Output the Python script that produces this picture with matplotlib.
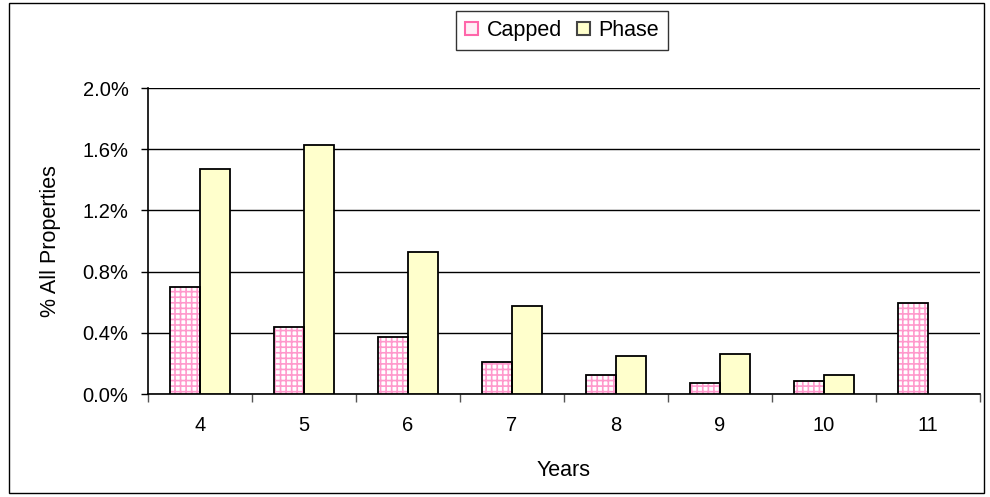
import numpy as np
import matplotlib
matplotlib.use("Agg")
import matplotlib.pyplot as plt
from matplotlib.patches import Rectangle

plt.rcParams['font.family'] = ['Liberation Sans', 'DejaVu Sans']
plt.rcParams['hatch.linewidth'] = 1.2

years = ['4', '5', '6', '7', '8', '9', '10', '11']
capped = [0.70, 0.44, 0.375, 0.21, 0.125, 0.075, 0.085, 0.595]
phase = [1.47, 1.63, 0.93, 0.575, 0.25, 0.26, 0.125, 0.0]

fig = plt.figure(figsize=(9.9, 4.97), dpi=100)
ax = fig.add_axes([0.1495, 0.2072, 0.8405, 0.6157])

x = np.arange(len(years))
w = 0.29
pink = '#ff99cc'
cream = '#ffffcc'

# capped: hatched grid, then black outline on top
ax.bar(x - w / 2, capped, w, color='white', edgecolor=pink, hatch='+++', linewidth=0, zorder=3)
ax.bar(x - w / 2, capped, w, fill=False, edgecolor='black', linewidth=1.3, zorder=4)
ph = [v if v > 0 else np.nan for v in phase]
ax.bar(x + w / 2, ph, w, color=cream, edgecolor='black', linewidth=1.3, zorder=3)

ax.set_xlim(-0.5, len(years) - 0.5)
ax.set_ylim(0, 2.0)
ax.set_yticks(np.arange(0, 2.01, 0.4))
ax.set_yticklabels(['%.1f%%' % v for v in np.arange(0, 2.01, 0.4)])
ax.set_xticks(x)
ax.set_xticklabels(years)
ax.set_xticks(np.arange(-0.5, len(years)), minor=True)
ax.tick_params(axis='x', which='major', length=0, pad=16, labelsize=14.5)
ax.tick_params(axis='x', which='minor', length=6, width=1, color='#555555')
ax.tick_params(axis='y', length=5, width=1, labelsize=14.5, pad=9)
ax.grid(axis='y', color='black', linewidth=1, zorder=0)
for s in ['top', 'right']:
    ax.spines[s].set_visible(False)
ax.spines['left'].set_linewidth(1.2)
ax.spines['bottom'].set_linewidth(1.2)

ax.set_xlabel('Years', fontsize=15.5)
ax.set_ylabel('% All Properties', fontsize=15.5)
ax.xaxis.set_label_coords(0.5, -0.215)
ax.yaxis.set_label_coords(-0.104, 0.5)

h1 = Rectangle((0, 0), 1, 1, facecolor='#ffeef6', edgecolor='#ff66aa', linewidth=1.5)
h2 = Rectangle((0, 0), 1, 1, facecolor=cream, edgecolor='#444444', linewidth=1.5)
leg = fig.legend([h1, h2], ['Capped', 'Phase'], loc='center', bbox_to_anchor=(0.5677, 0.9386),
                 ncol=2, fontsize=15.5, frameon=True, fancybox=False, handlelength=0.6,
                 handleheight=0.6, handletextpad=0.4, columnspacing=0.7, borderpad=0.4)
leg.get_frame().set_edgecolor('black')
leg.get_frame().set_linewidth(1)

fig.patches.append(Rectangle((0.009, 0.008), 0.985, 0.986, transform=fig.transFigure,
                             fill=False, edgecolor='black', linewidth=1))

fig.savefig('out.png', dpi=100)
